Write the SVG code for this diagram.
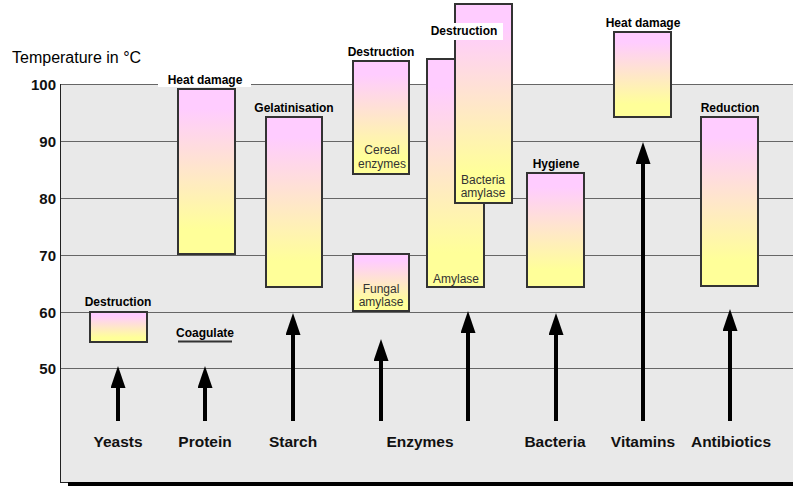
<svg xmlns="http://www.w3.org/2000/svg" width="793" height="486" viewBox="0 0 793 486">
<defs>
<linearGradient id="grad" x1="0" y1="0" x2="0" y2="1">
<stop offset="0.12" stop-color="#ffccff"/>
<stop offset="0.85" stop-color="#ffff99"/>
</linearGradient>
<marker id="head" markerUnits="userSpaceOnUse" markerWidth="22" markerHeight="15" viewBox="0 0 22 15" refX="0" refY="7.5" orient="auto">
<path d="M0,0 L22,7.5 L0,15 z" fill="#000"/>
</marker>
<style>
.bar{fill:url(#grad);stroke:#333;stroke-width:2}
.grid{stroke:#666;stroke-width:1}
.hdr{font-family:"Liberation Sans",Arial,sans-serif;font-size:12px;font-weight:bold;fill:#000;text-anchor:middle}
.in{font-family:"Liberation Sans",Arial,sans-serif;font-size:12px;fill:#333;text-anchor:middle}
.cat{font-family:"Liberation Sans",Arial,sans-serif;font-size:15.5px;font-weight:bold;fill:#111;text-anchor:middle}
.ax{font-family:"Liberation Sans",Arial,sans-serif;font-size:15px;font-weight:bold;fill:#111;text-anchor:end}
.arr{stroke:#000;stroke-width:4;marker-end:url(#head)}
</style>
</defs>
<rect width="793" height="486" fill="#fff"/>
<g id="chart">
<rect x="60" y="84" width="733" height="399" fill="#e9e9e9"/>
<line class="grid" x1="60" y1="84.5" x2="793" y2="84.5"/>
<line class="grid" x1="60" y1="141.5" x2="793" y2="141.5"/>
<line class="grid" x1="60" y1="198.5" x2="793" y2="198.5"/>
<line class="grid" x1="60" y1="255.5" x2="793" y2="255.5"/>
<line class="grid" x1="60" y1="312.5" x2="793" y2="312.5"/>
<line class="grid" x1="60" y1="368.5" x2="793" y2="368.5"/>
<line x1="60.5" y1="84" x2="60.5" y2="483" stroke="#222" stroke-width="1"/>
<line x1="60" y1="482.5" x2="793" y2="482.5" stroke="#222" stroke-width="1"/>
<rect x="68" y="482" width="725" height="4" fill="#000"/>
<text x="12" y="63" font-family="'Liberation Sans',Arial,sans-serif" font-size="16" fill="#000">Temperature in °C</text>
<text class="ax" x="56" y="90">100</text>
<text class="ax" x="56" y="147">90</text>
<text class="ax" x="56" y="204">80</text>
<text class="ax" x="56" y="261">70</text>
<text class="ax" x="56" y="318">60</text>
<text class="ax" x="56" y="374">50</text>
</g>
<g id="yeasts">
<rect class="bar" x="90" y="312" width="57" height="30"/>
<text class="hdr" x="118" y="306">Destruction</text>
<text class="cat" x="118" y="447">Yeasts</text>
</g>
<g id="protein">
<rect x="158" y="72" width="93" height="15" fill="#fff"/>
<text class="hdr" x="205" y="84">Heat damage</text>
<rect class="bar" x="178" y="89" width="57" height="165"/>
<text class="hdr" x="205" y="337">Coagulate</text>
<line x1="178" y1="341.5" x2="232" y2="341.5" stroke="#333" stroke-width="2"/>
<text class="cat" x="205" y="447">Protein</text>
</g>
<g id="starch">
<rect class="bar" x="266" y="117" width="56" height="170"/>
<text class="hdr" x="294" y="112">Gelatinisation</text>
<text class="cat" x="293" y="447">Starch</text>
</g>
<g id="enzymes">
<text class="hdr" x="381" y="56">Destruction</text>
<rect class="bar" x="353" y="61" width="56" height="113"/>
<text class="in" x="382" y="154">Cereal</text>
<text class="in" x="382" y="168">enzymes</text>
<rect class="bar" x="353" y="254" width="56" height="57"/>
<text class="in" x="381" y="293">Fungal</text>
<text class="in" x="381" y="306">amylase</text>
<rect class="bar" x="427" y="59" width="57" height="228"/>
<text class="in" x="456" y="283">Amylase</text>
<rect class="bar" x="455" y="4" width="57" height="199"/>
<rect x="427" y="23" width="76" height="17" fill="#fff"/>
<text class="hdr" x="464" y="35">Destruction</text>
<text class="in" x="483" y="184">Bacteria</text>
<text class="in" x="483" y="197">amylase</text>
<text class="cat" x="420" y="447">Enzymes</text>
</g>
<g id="bacteria">
<rect class="bar" x="527" y="173" width="57" height="114"/>
<text class="hdr" x="556" y="168">Hygiene</text>
<text class="cat" x="555" y="447">Bacteria</text>
</g>
<g id="vitamins">
<rect class="bar" x="614" y="32" width="57" height="85"/>
<text class="hdr" x="643" y="27">Heat damage</text>
<text class="cat" x="643" y="447">Vitamins</text>
</g>
<g id="antibiotics">
<rect class="bar" x="701" y="117" width="57" height="169"/>
<text class="hdr" x="730" y="112">Reduction</text>
<text class="cat" x="731" y="447">Antibiotics</text>
</g>
<g id="connectors">
<line class="arr" x1="118" y1="421" x2="118" y2="388"/>
<line class="arr" x1="205" y1="421" x2="205" y2="388"/>
<line class="arr" x1="293" y1="421" x2="293" y2="335"/>
<line class="arr" x1="381" y1="421" x2="381" y2="361"/>
<line class="arr" x1="468" y1="421" x2="468" y2="333"/>
<line class="arr" x1="556" y1="421" x2="556" y2="335"/>
<line class="arr" x1="643" y1="421" x2="643" y2="164"/>
<line class="arr" x1="730" y1="421" x2="730" y2="331"/>
</g>
</svg>
